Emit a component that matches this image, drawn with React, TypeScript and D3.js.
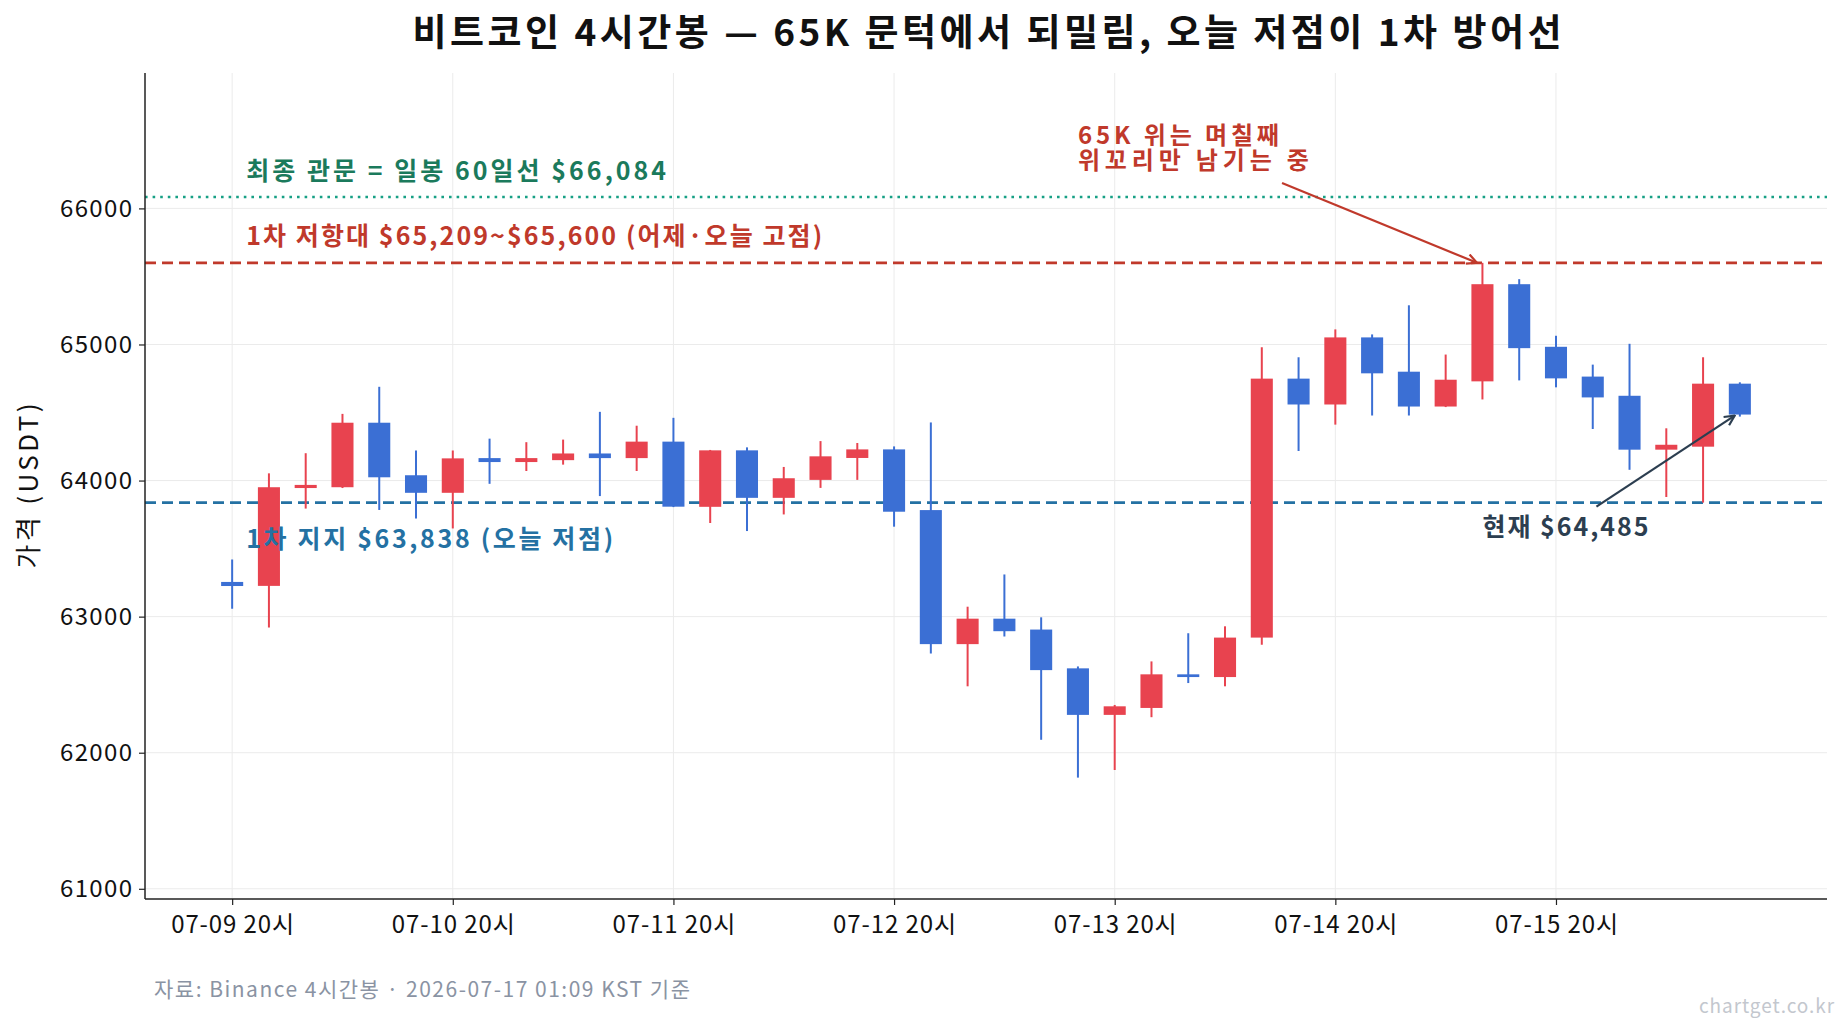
import React, { useEffect, useRef } from 'react';
import * as d3 from 'd3';

// 4h candles, 07-09 20시 → 07-16 16시
const opens = [
  63255, 63226, 63945, 63951, 64425, 64039, 63910, 64165, 64136, 64150, 64199, 64165, 64286, 63807,
  64222, 63873, 64005, 64166, 64229, 63783, 62798, 62985, 62905, 62620, 62278, 62329, 62576, 62556,
  62846, 64749, 64559, 65052, 64800, 64544, 64729, 65443, 64983, 64764, 64623, 64227, 64249, 64712,
];
const highs = [
  63420, 64053, 64201, 64490, 64689, 64221, 64221, 64308, 64282, 64301, 64505, 64403, 64461, 64225,
  64244, 64100, 64290, 64276, 64251, 64427, 63073, 63310, 62995, 62634, 62351, 62671, 62878, 62929,
  64980, 64906, 65111, 65074, 65288, 64926, 65600, 65480, 65064, 64852, 65005, 64384, 64906, 64722,
];
const lows = [
  63058, 62920, 63794, 63945, 63784, 63721, 63648, 63976, 64070, 64117, 63886, 64070, 63805, 63688,
  63629, 63751, 63946, 64005, 63661, 62729, 62488, 62854, 62095, 61817, 61873, 62261, 62512, 62488,
  62793, 64217, 64411, 64478, 64478, 64540, 64596, 64736, 64685, 64379, 64079, 63879, 63838, 64470,
];
const closes = [
  63225, 63951, 63968, 64425, 64024, 63910, 64163, 64136, 64165, 64199, 64165, 64286, 63808, 64222,
  63873, 64017, 64178, 64229, 63771, 62798, 62985, 62893, 62607, 62278, 62341, 62576, 62556, 62846,
  64749, 64559, 65052, 64788, 64544, 64741, 65443, 64973, 64751, 64611, 64227, 64263, 64712, 64485,
];

const xTickIdx = [0, 6, 12, 18, 24, 30, 36];
const xTickLabels = ['07-09 20시', '07-10 20시', '07-11 20시', '07-12 20시', '07-13 20시', '07-14 20시', '07-15 20시'];
const yTicks = [61000, 62000, 63000, 64000, 65000, 66000];

const ma60 = 66084;
const resistance = 65600;
const support = 63838;
const current = 64485;

const UP = '#e8434f';
const DOWN = '#3b6fd4';
const FONT = '"Noto Sans CJK KR", "Noto Sans", sans-serif';

const W = 1847;
const H = 1033;

const App = () => {
  const ref = useRef(null);

  useEffect(() => {
    d3.select(ref.current).selectAll('*').remove();

    const margin = { top: 73, right: 20, bottom: 134, left: 145 };
    const innerW = W - margin.left - margin.right;
    const innerH = H - margin.top - margin.bottom;

    const svg = d3.select(ref.current)
      .append('svg')
      .attr('width', W)
      .attr('height', H)
      .style('position', 'absolute')
      .style('left', 0)
      .style('top', 0)
      .style('font-family', FONT);

    svg.append('rect').attr('width', W).attr('height', H).attr('fill', '#fff');

    const x = d3.scaleLinear().domain([-2.37, opens.length - 1 + 2.37]).range([0, innerW]);
    const y = d3.scaleLinear().domain([60925, 66995]).range([innerH, 0]);

    const g = svg.append('g').attr('transform', `translate(${margin.left},${margin.top})`);

    // the source font (Malgun-like) runs wider than Noto, so stretch spacing to its widths
    const fit = (sel, w) => sel.attr('textLength', w).attr('lengthAdjust', 'spacing');

    // grid
    g.selectAll('.hgrid').data(yTicks).join('line')
      .attr('x1', 0).attr('x2', innerW)
      .attr('y1', d => y(d)).attr('y2', d => y(d))
      .attr('stroke', '#ebebeb').attr('stroke-width', 1);
    g.selectAll('.vgrid').data(xTickIdx).join('line')
      .attr('x1', d => x(d)).attr('x2', d => x(d))
      .attr('y1', 0).attr('y2', innerH)
      .attr('stroke', '#ebebeb').attr('stroke-width', 1);

    // reference lines
    const hline = (v, color, dash) => {
      g.append('line')
        .attr('x1', 0).attr('x2', innerW)
        .attr('y1', y(v)).attr('y2', y(v))
        .attr('stroke', color).attr('stroke-width', 2.6)
        .attr('stroke-dasharray', dash);
    };
    hline(ma60, '#17a085', '2.6,5');
    hline(resistance, '#c0392b', '11,6');
    hline(support, '#2471a3', '11,6');

    // candles
    const bw = (x(1) - x(0)) * 0.6;
    opens.forEach((o, i) => {
      const c = closes[i];
      const col = c >= o ? UP : DOWN;
      g.append('line')
        .attr('x1', x(i)).attr('x2', x(i))
        .attr('y1', y(highs[i])).attr('y2', y(lows[i]))
        .attr('stroke', col).attr('stroke-width', 2);
      const top = y(Math.max(o, c));
      const h = Math.max(Math.abs(y(o) - y(c)), 2);
      g.append('rect')
        .attr('x', x(i) - bw / 2).attr('y', top)
        .attr('width', bw).attr('height', h)
        .attr('fill', col);
    });

    // axes
    const yAxis = g.append('g')
      .call(d3.axisLeft(y).tickValues(yTicks).tickFormat(d => String(d)).tickSize(6).tickPadding(7));
    const xAxis = g.append('g')
      .attr('transform', `translate(0,${innerH})`)
      .call(d3.axisBottom(x).tickValues(xTickIdx).tickFormat((d, i) => xTickLabels[i]).tickSize(6).tickPadding(11));
    [yAxis, xAxis].forEach(a => {
      a.select('.domain').attr('stroke', '#222').attr('stroke-width', 1.5);
      a.selectAll('.tick line').attr('stroke', '#222').attr('stroke-width', 1.2);
      a.selectAll('text').attr('fill', '#111').style('font-size', '24px').style('font-family', FONT);
    });
    fit(yAxis.selectAll('text'), 72);
    fit(xAxis.selectAll('text'), 123);
    xAxis.select('.domain').attr('d', `M0,0H${innerW}`);
    yAxis.select('.domain').attr('d', `M0,0V${innerH}`);

    // line labels
    const label = (txt, v, color, w) => {
      g.append('text')
        .attr('x', x(0.38)).attr('y', y(v))
        .attr('dy', '0.35em')
        .attr('fill', color)
        .style('font-size', '25px').style('font-weight', 700)
        .text(txt)
        .call(fit, w);
    };
    label('최종 관문 = 일봉 60일선 $66,084', 66275, '#1b7a5c', 420);
    label('1차 저항대 $65,209~$65,600 (어제·오늘 고점)', 65792, '#c0392b', 576);
    label('1차 지지 $63,838 (오늘 저점)', 63566, '#2471a3', 367);

    // arrows
    const defs = svg.append('defs');
    const marker = (id, color) => {
      defs.append('marker')
        .attr('id', id).attr('viewBox', '0 0 12 12')
        .attr('refX', 11).attr('refY', 6)
        .attr('markerWidth', 12).attr('markerHeight', 12)
        .attr('markerUnits', 'userSpaceOnUse')
        .attr('orient', 'auto')
        .append('path')
        .attr('d', 'M1,1 L11,6 L1,11')
        .attr('fill', 'none').attr('stroke', color).attr('stroke-width', 2.2);
    };
    marker('arrRed', '#c0392b');
    marker('arrDark', '#2c3e50');

    const arrow = (x0, y0, x1, y1, color, id) => {
      g.append('line')
        .attr('x1', x(x0)).attr('y1', y(y0))
        .attr('x2', x(x1)).attr('y2', y(y1))
        .attr('stroke', color).attr('stroke-width', 2.2)
        .attr('marker-end', `url(#${id})`);
    };
    arrow(28.55, 66187, 33.85, resistance, '#c0392b', 'arrRed');
    arrow(37.1, 63808, 40.86, current - 8, '#2c3e50', 'arrDark');

    // two-line annotation as one text block
    const note = g.append('text')
      .attr('y', y(66536))
      .attr('fill', '#c0392b')
      .style('font-size', '24px').style('font-weight', 700);
    note.append('tspan').attr('x', x(23.0)).attr('dy', '0.35em').text('65K 위는 며칠째').call(fit, 201);
    note.append('tspan').attr('x', x(23.0)).attr('dy', y(66349) - y(66536)).text('위꼬리만 남기는 중').call(fit, 231);

    g.append('text')
      .attr('x', x(34.0)).attr('y', y(63654))
      .attr('dy', '0.35em')
      .attr('fill', '#2c3e50')
      .style('font-size', '25px').style('font-weight', 700)
      .text('현재 $64,485')
      .call(fit, 166);

    // title
    svg.append('text')
      .attr('x', 987).attr('y', 33)
      .attr('dy', '0.35em')
      .attr('text-anchor', 'middle')
      .attr('fill', '#111')
      .style('font-size', '37px').style('font-weight', 700)
      .text('비트코인 4시간봉 — 65K 문턱에서 되밀림, 오늘 저점이 1차 방어선')
      .call(fit, 1149);

    // y label
    svg.append('text')
      .attr('transform', `translate(29,${margin.top + innerH / 2}) rotate(-90)`)
      .attr('text-anchor', 'middle')
      .attr('dy', '0.35em')
      .attr('fill', '#111')
      .style('font-size', '26px')
      .text('가격 (USDT)')
      .call(fit, 165);

    // footer
    svg.append('text')
      .attr('x', 154).attr('y', 990)
      .attr('dy', '0.35em')
      .attr('fill', '#8a93a3')
      .style('font-size', '21px')
      .text('자료: Binance 4시간봉 · 2026-07-17 01:09 KST 기준')
      .call(fit, 536);

    svg.append('text')
      .attr('x', 1834).attr('y', 1006)
      .attr('dy', '0.35em')
      .attr('text-anchor', 'end')
      .attr('fill', '#c3c7ce')
      .style('font-size', '19px')
      .text('chartget.co.kr')
      .call(fit, 135);
  }, []);

  return <div ref={ref} />;
};

export default App;
